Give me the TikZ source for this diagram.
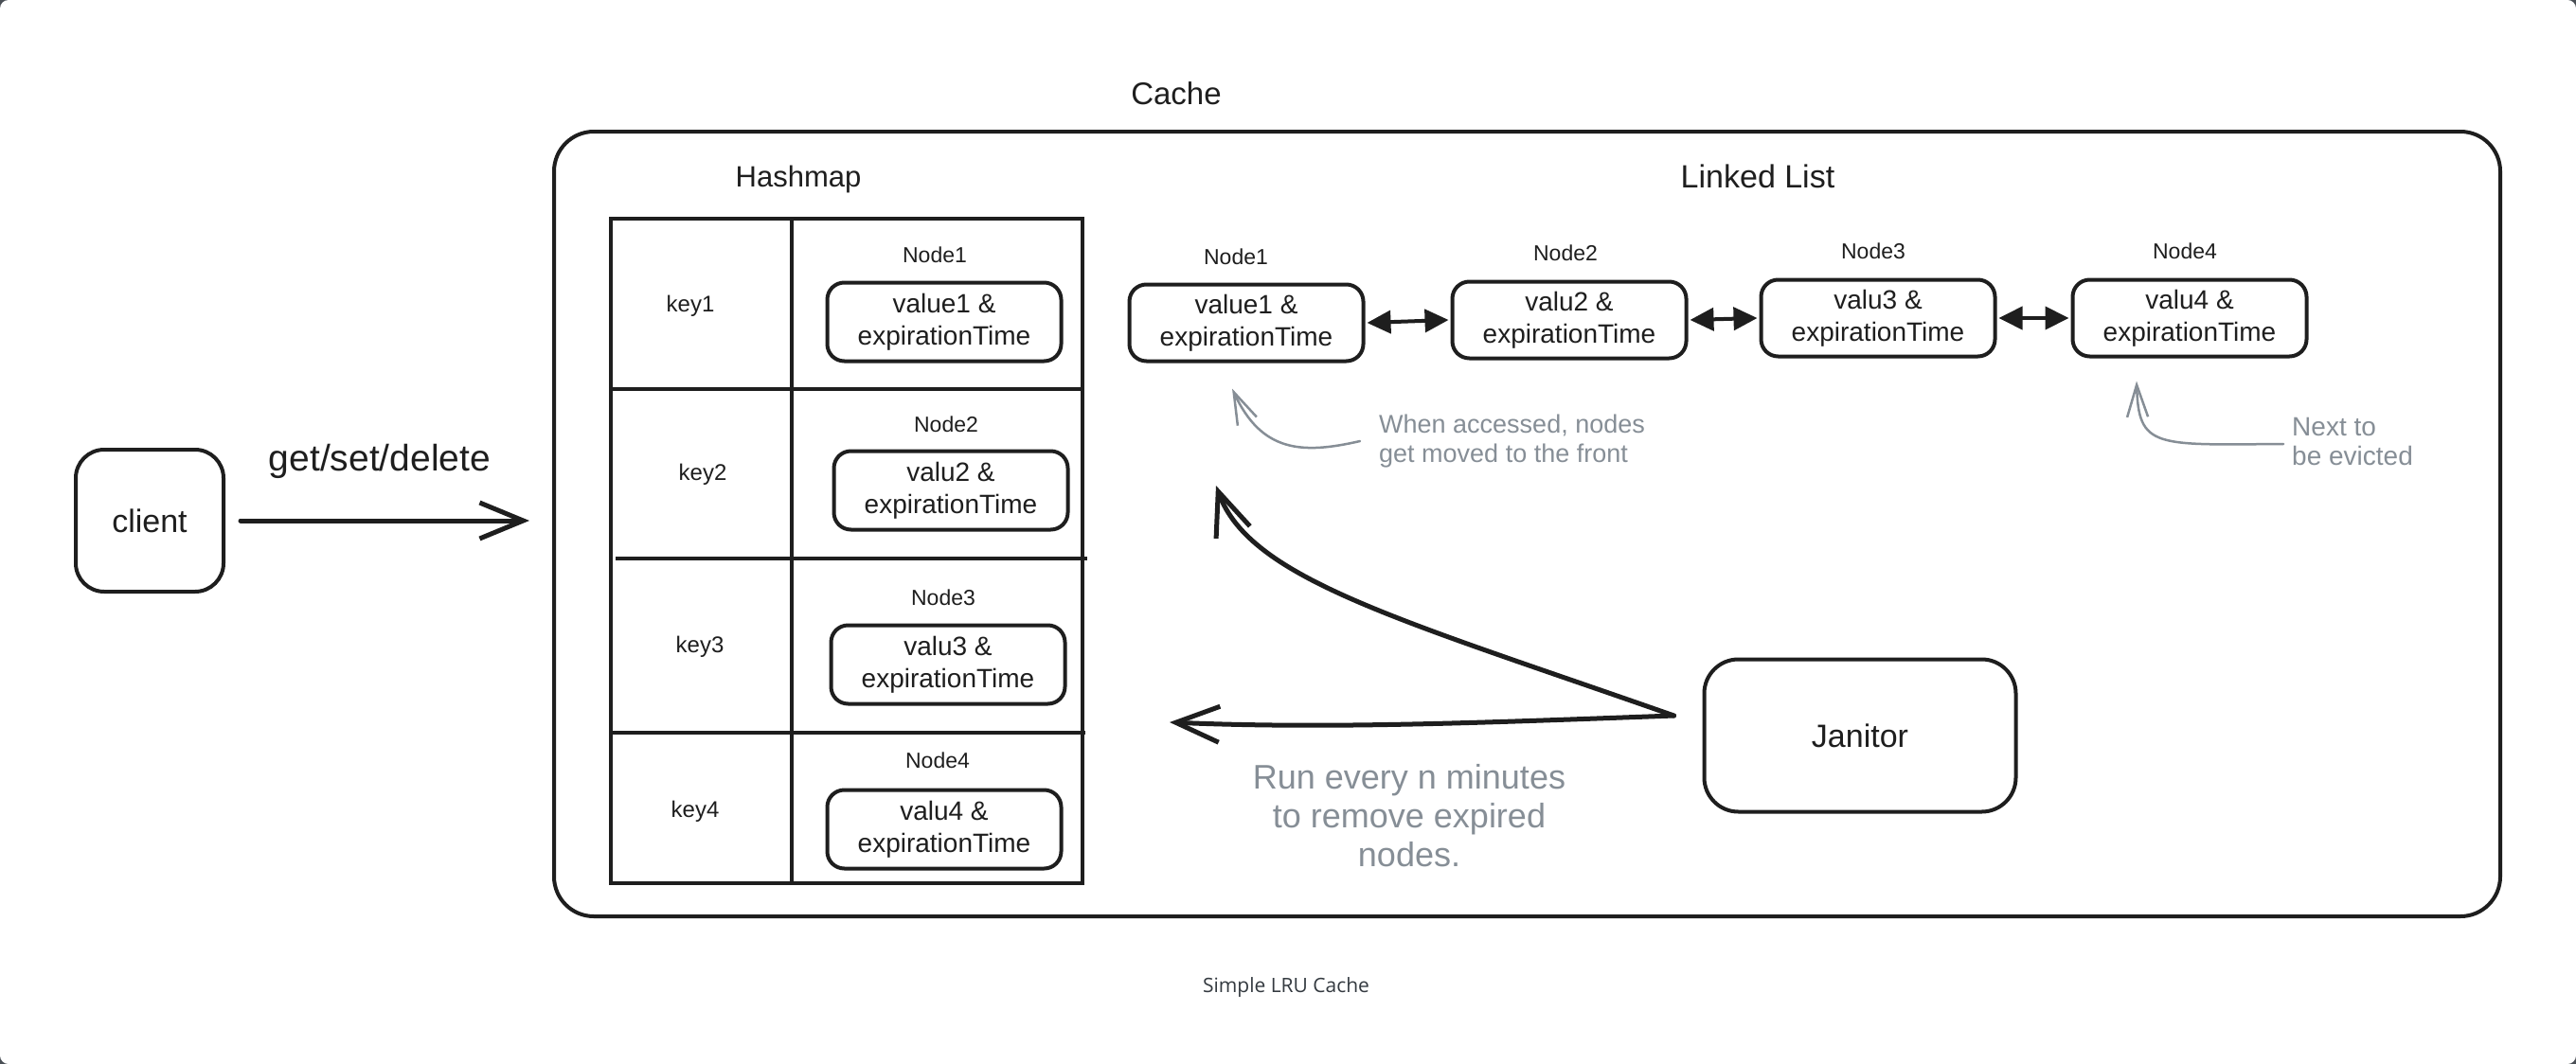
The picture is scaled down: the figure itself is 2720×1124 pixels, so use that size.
\documentclass[tikz,border=0pt]{standalone}
\usepackage{fontspec}
\setmainfont{Liberation Sans}
\newfontfamily\capfont{Open Sans}
\usetikzlibrary{arrows.meta}
\definecolor{ink}{HTML}{1E1E1E}
\definecolor{note}{HTML}{868E96}
\definecolor{framebg}{HTML}{4A4F55}
\definecolor{captxt}{HTML}{343A40}
\newcommand{\fsz}[2]{\fontsize{#1pt}{#2pt}\selectfont}
\begin{document}
\begin{tikzpicture}[x=1pt,y=-1pt,
  valbox/.style={draw=ink,line width=4pt,rounded corners=18pt,align=center,inner sep=0pt,
    font=\fsz{28}{34},text=ink,minimum width=247pt,minimum height=83pt},
  lbl/.style={text=ink,inner sep=0pt},
  nlbl/.style={lbl,font=\fsz{23}{27}},
  klbl/.style={lbl,font=\fsz{24}{28}},
  ttl/.style={lbl,font=\fsz{32}{36}},
  notetxt/.style={text=note,inner sep=0pt,align=left},
  bigarrow/.style={draw=ink,line width=5pt,line cap=round,-{Straight Barb[length=46pt,width=38pt,line width=5pt]}},
  notearrow/.style={draw=note,line width=2.5pt,line cap=round,-{Straight Barb[length=34pt,width=22pt,line width=2.5pt]}},
  dblarrow/.style={draw=ink,line width=4pt,{Triangle[length=25pt,width=24pt]}-{Triangle[length=25pt,width=24pt]}},
  tblline/.style={draw=ink,line width=4.5pt},
]
\useasboundingbox (0,0) rectangle (2720,1124);
\fill[framebg] (0,0) rectangle (2720,1124);
\fill[white,rounded corners=9pt] (0,0) rectangle (2720,1124);

% client
\node[draw=ink,line width=4pt,rounded corners=30pt,minimum width=156pt,minimum height=150pt,
  font=\fsz{34}{40},text=ink] (client) at (158,550) {client};
\node[lbl,font=\fsz{39}{44}] (gsd) at (401,487) {get/set/delete};
\coordinate (getend) at (559,550);
\draw[bigarrow,shorten <=16pt] (client) -- (getend);

% cache container
\node[draw=ink,line width=4pt,rounded corners=42pt,minimum width=2055pt,minimum height=829pt] (cache) at (1612.5,553.5) {};
\node[ttl,font=\fsz{33}{38}] (cachelbl) at (1242,99) {Cache};
\node[ttl,font=\fsz{31}{36}] (hashlbl) at (843,189) {Hashmap};
\node[ttl,font=\fsz{34}{38}] (lllbl) at (1856,186) {Linked List};

% hashmap table
\draw[tblline] (645,231) rectangle (1143,933);
\draw[tblline] (836,231) -- (836,933);
\draw[tblline] (645,411) -- (1143,411);
\draw[tblline] (650,590) -- (1148,590);
\draw[tblline] (645,774) -- (1146,774);

\node[klbl] (k1) at (729,323) {key1};
\node[klbl] (k2) at (742,501) {key2};
\node[klbl] (k3) at (739,683) {key3};
\node[klbl] (k4) at (734,857) {key4};

\node[nlbl] (hn1) at (987,269) {Node1};
\node[nlbl] (hn2) at (999,448) {Node2};
\node[nlbl] (hn3) at (996,631) {Node3};
\node[nlbl] (hn4) at (990,803) {Node4};

\node[valbox] (hv1) at (997,340) {value1 \&\\expirationTime};
\node[valbox] (hv2) at (1004,518) {valu2 \&\\expirationTime};
\node[valbox] (hv3) at (1001,702) {valu3 \&\\expirationTime};
\node[valbox] (hv4) at (997,876) {valu4 \&\\expirationTime};

% linked list
\node[nlbl] (ln1) at (1305,271) {Node1};
\node[nlbl] (ln2) at (1653,267) {Node2};
\node[nlbl] (ln3) at (1978,265) {Node3};
\node[nlbl] (ln4) at (2307,265) {Node4};

\node[valbox,minimum height=81pt] (ll1) at (1316,341) {value1 \&\\expirationTime};
\node[valbox,minimum height=81pt] (ll2) at (1657,338) {valu2 \&\\expirationTime};
\node[valbox,minimum height=81pt] (ll3) at (1983,336) {valu3 \&\\expirationTime};
\node[valbox,minimum height=81pt] (ll4) at (2312,336) {valu4 \&\\expirationTime};

\draw[dblarrow] ([xshift=2pt]ll1.east) -- ([xshift=-2pt]ll2.west);
\draw[dblarrow] ([xshift=2pt]ll2.east) -- ([xshift=-2pt]ll3.west);
\draw[dblarrow] ([xshift=2pt]ll3.east) -- ([xshift=-2pt]ll4.west);

% annotations
\node[notetxt,anchor=west,font=\fsz{27}{31}] (ann1) at (1456,466) {When accessed, nodes\\get moved to the front};
\node[notetxt,anchor=west,font=\fsz{28}{31}] (ann2) at (2420,466) {Next to\\be evicted};
\draw[notearrow] ([xshift=-20pt]ann1.west) .. controls (1375,480) and (1332,478) .. ([xshift=-15pt,yshift=-27pt]ll1.south);
\draw[notearrow] ([xshift=-9pt,yshift=-3pt]ann2.west) .. controls (2275,470) and (2258,474) .. ([xshift=-56pt,yshift=-24pt]ll4.south);

% janitor
\node[draw=ink,line width=4pt,rounded corners=36pt,minimum width=329pt,minimum height=161pt,
  font=\fsz{34}{40},text=ink] (janitor) at (1964,777) {Janitor};
\coordinate (jtip1) at (1284,513);
\coordinate (jtip2) at (1235,763);
\draw[bigarrow] ([xshift=-30pt,yshift=21pt]janitor.west) .. controls (1480,655) and (1320,612) .. (jtip1);
\draw[bigarrow] ([xshift=-30pt,yshift=21pt]janitor.west) .. controls (1550,764) and (1400,770) .. (jtip2);
\node[text=note,inner sep=0pt,align=center,font=\fsz{36}{41}] (runnote) at (1488,862) {Run every n minutes\\to remove expired\\nodes.};

% caption
\node[text=captxt,inner sep=0pt,font=\capfont\fsz{21}{25}] (caption) at (1358,1043) {Simple LRU Cache};
\end{tikzpicture}
\end{document}
